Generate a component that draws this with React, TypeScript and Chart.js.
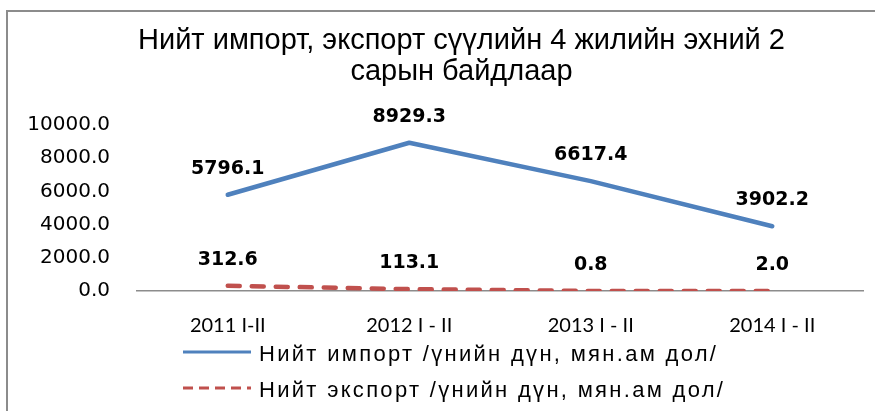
import React, { useEffect, useRef } from 'react';
import { Chart, registerables } from 'chart.js';

Chart.register(...registerables);

// ---- data ----
const categories = ['2011 I-II', '2012 I - II', '2013 I - II', '2014 I - II'];
const importValues = [5796.1, 8929.3, 6617.4, 3902.2];
const exportValues = [312.6, 113.1, 0.8, 2.0];
const importLabel = 'Нийт импорт /үнийн дүн, мян.ам дол/';
const exportLabel = 'Нийт экспорт /үнийн дүн, мян.ам дол/';
const titleLines = ['Нийт импорт, экспорт сүүлийн 4 жилийн эхний 2', 'сарын байдлаар'];
const yMin = 0;
const yMax = 10000;
const yStep = 2000;

const IMPORT_COLOR = '#4F81BD';
const EXPORT_COLOR = '#C0504D';

const dataLabelsPlugin = {
  id: 'valueLabels',
  afterDatasetsDraw(chart: any) {
    const ctx = chart.ctx;
    ctx.save();
    ctx.font = 'bold 19px "DejaVu Sans", Verdana, sans-serif';
    ctx.fillStyle = '#000';
    ctx.textAlign = 'center';
    ctx.textBaseline = 'middle';
    chart.data.datasets.forEach((ds: any, di: number) => {
      const meta = chart.getDatasetMeta(di);
      meta.data.forEach((el: any, i: number) => {
        const v = ds.data[i] as number;
        ctx.fillText(v.toFixed(1), el.x, el.y - 26);
      });
    });
    ctx.restore();
  },
};

const legendPlugin = {
  id: 'customLegend',
  afterDraw(chart: any) {
    const ctx = chart.ctx;
    ctx.save();
    chart.data.datasets.forEach((ds: any, i: number) => {
      const y = 352 + i * 36;
      ctx.beginPath();
      ctx.strokeStyle = ds.borderColor;
      ctx.lineWidth = 3;
      ctx.lineCap = 'butt';
      ctx.setLineDash(ds.borderDash && ds.borderDash.length ? [10, 6] : []);
      ctx.moveTo(183, y);
      ctx.lineTo(251, y);
      ctx.stroke();
      ctx.setLineDash([]);
      ctx.font = '22px "Liberation Sans", Arial, sans-serif';
      (ctx as any).letterSpacing = '2.3px';
      ctx.fillStyle = '#000';
      ctx.textAlign = 'left';
      ctx.textBaseline = 'middle';
      ctx.fillText(ds.label, 259, y + 3);
      (ctx as any).letterSpacing = '0px';
    });
    ctx.restore();
  },
};

export default function App() {
  const canvasRef = useRef<HTMLCanvasElement | null>(null);

  useEffect(() => {
    if (!canvasRef.current) return;
    const chart = new Chart(canvasRef.current, {
      type: 'line',
      data: {
        labels: categories,
        datasets: [
          {
            label: importLabel,
            data: importValues,
            borderColor: IMPORT_COLOR,
            backgroundColor: IMPORT_COLOR,
            borderWidth: 4.5,
            pointRadius: 0,
            tension: 0,
            borderCapStyle: 'round',
            borderJoinStyle: 'round',
            yAxisID: 'y',
          },
          {
            label: exportLabel,
            data: exportValues,
            borderColor: EXPORT_COLOR,
            backgroundColor: EXPORT_COLOR,
            borderWidth: 4.5,
            borderDash: [12, 12],
            borderCapStyle: 'round',
            pointRadius: 0,
            tension: 0,
            yAxisID: 'y',
          },
        ],
      },
      options: {
        responsive: false,
        maintainAspectRatio: false,
        animation: false,
        devicePixelRatio: 1,
        layout: { padding: { left: 0, right: 12, top: 0, bottom: 75 } },
        plugins: {
          legend: { display: false },
          tooltip: { enabled: false },
          title: {
            display: true,
            text: titleLines,
            color: '#000',
            font: { family: '"Liberation Sans", Arial, sans-serif', size: 29, weight: 'normal', lineHeight: 31 / 29 },
            padding: { top: 25.5, bottom: 37.5 },
          },
        },
        scales: {
          x: {
            offset: true,
            grid: { display: false, drawTicks: false },
            border: { display: true, color: '#8c8c8c', width: 1.5 },
            ticks: {
              color: '#000',
              padding: 23,
              maxRotation: 0,
              autoSkip: false,
              font: { family: 'Lato, "Open Sans", sans-serif', size: 20 },
            },
            afterFit: (scale: any) => {
              scale.height = 45;
            },
          },
          y: {
            position: 'left',
            min: yMin,
            max: yMax,
            grid: { display: false, drawTicks: false },
            border: { display: false },
            ticks: {
              stepSize: yStep,
              color: '#000',
              padding: 27,
              font: { family: '"DejaVu Sans", Verdana, sans-serif', size: 20 },
              callback: (v: any) => Number(v).toFixed(1),
            },
            afterFit: (scale: any) => {
              scale.width = 137;
            },
          },
          spacer: {
            type: 'linear',
            position: 'right',
            display: true,
            grid: { display: false, drawTicks: false },
            border: { display: false },
            ticks: { display: false },
            afterFit: (scale: any) => {
              scale.width = 60;
            },
          },
        },
      },
      plugins: [dataLabelsPlugin, legendPlugin],
    });
    return () => chart.destroy();
  }, []);

  return (
    <div
      style={{
        position: 'fixed',
        left: 0,
        top: 0,
        width: 875,
        height: 411,
        overflow: 'hidden',
        background: '#fff',
      }}
    >
      <div
        style={{
          position: 'absolute',
          left: 6,
          top: 10,
          width: 900,
          height: 440,
          border: '2px solid #8c8c8c',
          boxSizing: 'border-box',
        }}
      />
      <canvas
        ref={canvasRef}
        width={935}
        height={411}
        style={{ position: 'absolute', left: 0, top: 0, width: 935, height: 411 }}
      />
    </div>
  );
}
